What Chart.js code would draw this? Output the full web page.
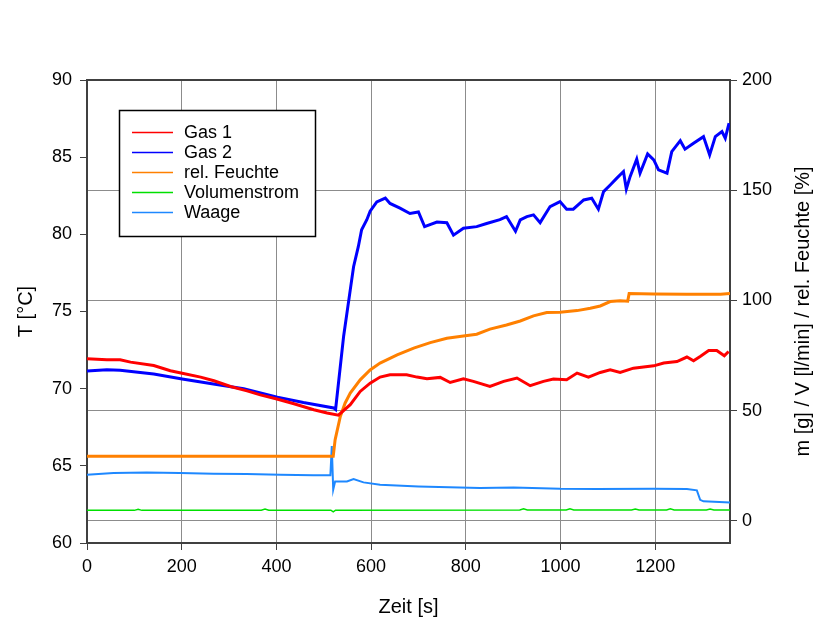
<!DOCTYPE html>
<html>
<head>
<meta charset="utf-8">
<script src="https://cdn.jsdelivr.net/npm/chart.js@4.4.1/dist/chart.umd.min.js"></script>
<style>
  html, body { margin: 0; padding: 0; background: #fff; }
  canvas { display: block; }
</style>
</head>
<body>
<canvas id="chart" width="817" height="623"></canvas>
<script>
const FONT = 'Arial, "Liberation Sans", sans-serif';

// Tick values of the three axes
const timeTicks = [0, 200, 400, 600, 800, 1000, 1200];
const tempTicks = [60, 65, 70, 75, 80, 85, 90];
const rightTicks = [0, 50, 100, 150, 200];

// Gas 1 temperature [°C]
const gas1Time = [0, 42, 70, 92, 141, 176, 201, 240, 268, 303, 338, 366, 401, 437, 479, 507, 531, 556, 577, 598, 619, 640, 675, 697, 718, 746, 767, 795, 816, 851, 880, 908, 936, 964, 985, 1013, 1035, 1059, 1084, 1105, 1126, 1154, 1197, 1218, 1246, 1267, 1281, 1295, 1313, 1330, 1346, 1355];
const gas1Temp = [71.94, 71.88, 71.87, 71.72, 71.5, 71.16, 71.0, 70.75, 70.51, 70.14, 69.86, 69.6, 69.33, 69.02, 68.63, 68.42, 68.28, 68.96, 69.82, 70.36, 70.75, 70.9, 70.9, 70.75, 70.64, 70.73, 70.4, 70.64, 70.47, 70.14, 70.47, 70.69, 70.19, 70.47, 70.62, 70.58, 71.01, 70.75, 71.05, 71.22, 71.05, 71.33, 71.48, 71.66, 71.76, 72.05, 71.81, 72.09, 72.47, 72.47, 72.13, 72.41];

// Gas 2 temperature [°C]
const gas2Time = [0, 42, 70, 141, 201, 267, 331, 402, 457, 521, 525, 542, 556, 563, 573, 580, 591, 598, 612, 630, 640, 661, 682, 700, 713, 739, 760, 774, 795, 823, 844, 872, 886, 905, 915, 929, 943, 957, 978, 999, 1013, 1027, 1049, 1066, 1080, 1091, 1105, 1119, 1133, 1139, 1147, 1161, 1168, 1184, 1197, 1207, 1225, 1235, 1253, 1263, 1281, 1302, 1315, 1327, 1341, 1348, 1356];
const gas2Temp = [71.15, 71.22, 71.2, 70.95, 70.62, 70.3, 70.0, 69.45, 69.1, 68.75, 68.65, 73.4, 76.4, 77.9, 79.2, 80.3, 80.95, 81.5, 82.1, 82.35, 82.0, 81.7, 81.35, 81.45, 80.5, 80.8, 80.75, 79.95, 80.4, 80.5, 80.7, 80.95, 81.15, 80.2, 80.94, 81.15, 81.26, 80.76, 81.8, 82.12, 81.63, 81.63, 82.23, 82.34, 81.63, 82.77, 83.2, 83.64, 84.07, 82.93, 83.74, 84.87, 83.96, 85.21, 84.82, 84.18, 83.96, 85.36, 86.07, 85.52, 85.9, 86.33, 85.15, 86.33, 86.66, 86.23, 87.2];

// Relative humidity [%]
const humTime = [0, 517, 520, 524, 535, 545, 556, 577, 598, 619, 655, 690, 725, 760, 795, 823, 851, 886, 915, 943, 971, 999, 1035, 1063, 1084, 1105, 1126, 1142, 1145, 1197, 1267, 1338, 1358];
const humValue = [29.3, 29.3, 29.3, 36.8, 47.4, 53.4, 58.0, 64.0, 68.5, 71.6, 75.3, 78.4, 80.9, 82.9, 83.9, 84.7, 87.0, 88.9, 90.7, 93.0, 94.5, 94.7, 95.4, 96.5, 97.5, 99.5, 99.9, 99.7, 103.2, 102.9, 102.8, 102.8, 103.2];

// Volume flow [l/min]
const flowTime = [0, 100, 108, 116, 368, 376, 384, 515, 520, 525, 914, 922, 930, 1012, 1020, 1028, 1150, 1158, 1166, 1224, 1232, 1240, 1308, 1316, 1324, 1358];
const flowValue = [4.8, 4.8, 5.3, 4.8, 4.9, 5.4, 4.9, 4.9, 4.1, 4.9, 5.0, 5.5, 5.0, 5.0, 5.5, 5.0, 5.0, 5.4, 5.0, 5.0, 5.5, 5.0, 5.0, 5.4, 5.0, 5.0];

// Balance reading [g]
const massTime = [0, 56, 126, 196, 267, 337, 408, 478, 514, 517, 520, 524, 549, 563, 584, 619, 700, 830, 901, 999, 1077, 1196, 1267, 1288, 1295, 1302, 1358];
const massValue = [21.0, 21.7, 22.0, 21.7, 21.4, 21.3, 21.0, 20.7, 20.7, 34.0, 14.2, 17.9, 17.9, 19.0, 17.5, 16.4, 15.6, 14.9, 15.2, 14.6, 14.5, 14.6, 14.5, 13.9, 9.6, 8.9, 8.4];

const pts = (xs, ys) => xs.map((x, i) => ({ x: x, y: ys[i] }));

function series(label, xs, ys, color, axis, width) {
  return {
    label: label,
    data: pts(xs, ys),
    borderColor: color,
    backgroundColor: color,
    borderWidth: width,
    pointRadius: 0,
    tension: 0,
    fill: false,
    yAxisID: axis
  };
}

// Legend box drawn inside the plot area
const boxLegend = {
  id: 'boxLegend',
  afterDraw(chart) {
    const ctx = chart.ctx;
    const x0 = 119.5, y0 = 110.5, w = 196, h = 126;
    ctx.save();
    ctx.fillStyle = '#fff';
    ctx.fillRect(x0, y0, w, h);
    ctx.strokeStyle = '#000';
    ctx.lineWidth = 1.5;
    ctx.strokeRect(x0, y0, w, h);
    ctx.font = '18px ' + FONT;
    ctx.textBaseline = 'middle';
    ctx.textAlign = 'left';
    chart.data.datasets.forEach((ds, i) => {
      const y = 132.5 + i * 20;
      ctx.strokeStyle = ds.borderColor;
      ctx.lineWidth = 1.5;
      ctx.beginPath();
      ctx.moveTo(132, y);
      ctx.lineTo(173, y);
      ctx.stroke();
      ctx.fillStyle = '#000';
      ctx.fillText(ds.label, 184, y + 1);
    });
    ctx.restore();
  }
};

// Top frame line and the right axis title (reading bottom to top)
const frameAndTitle = {
  id: 'frameAndTitle',
  afterDraw(chart) {
    const ctx = chart.ctx;
    const a = chart.chartArea;
    ctx.save();
    ctx.strokeStyle = '#404040';
    ctx.lineWidth = 2;
    ctx.beginPath();
    ctx.moveTo(a.left, a.top);
    ctx.lineTo(a.right, a.top);
    ctx.stroke();
    ctx.translate(803, (a.top + a.bottom) / 2);
    ctx.rotate(-Math.PI / 2);
    ctx.font = '20px ' + FONT;
    ctx.fillStyle = '#000';
    ctx.textAlign = 'center';
    ctx.textBaseline = 'middle';
    ctx.fillText('m [g] / V [l/min] / rel. Feuchte [%]', 0, 0);
    ctx.restore();
  }
};

const gridColor = '#8c8c8c';
const axisColor = '#404040';
const plainLabel = v => String(v);

new Chart(document.getElementById('chart'), {
  type: 'line',
  data: {
    datasets: [
      series('Gas 1', gas1Time, gas1Temp, '#ff0000', 'yT', 3),
      series('Gas 2', gas2Time, gas2Temp, '#0000ff', 'yT', 3),
      series('rel. Feuchte', humTime, humValue, '#ff8000', 'yR', 3),
      series('Volumenstrom', flowTime, flowValue, '#00e000', 'yR', 1.5),
      series('Waage', massTime, massValue, '#1e88ff', 'yR', 2)
    ]
  },
  options: {
    responsive: false,
    animation: false,
    devicePixelRatio: 1,
    layout: { padding: { top: 80, left: 0, right: 0, bottom: 0 } },
    plugins: {
      legend: { display: false },
      tooltip: { enabled: false }
    },
    scales: {
      x: {
        type: 'linear',
        min: 0,
        max: 1358,
        afterBuildTicks: s => { s.ticks = timeTicks.map(v => ({ value: v })); },
        afterFit: s => { s.height = 80; },
        grid: { color: gridColor, lineWidth: 1, tickLength: 7, tickColor: axisColor },
        border: { color: axisColor, width: 2 },
        ticks: { font: { size: 18, family: FONT }, color: '#000', padding: 6, maxRotation: 0, callback: plainLabel },
        title: { display: true, text: 'Zeit [s]', color: '#000', font: { size: 20, family: FONT }, padding: { top: 0, bottom: 4 } }
      },
      yT: {
        type: 'linear',
        position: 'left',
        min: 60,
        max: 90,
        afterBuildTicks: s => { s.ticks = tempTicks.map(v => ({ value: v })); },
        afterFit: s => { s.width = 87; },
        grid: { drawOnChartArea: false, tickLength: 7, tickColor: axisColor },
        border: { color: axisColor, width: 2 },
        ticks: { font: { size: 18, family: FONT }, color: '#000', padding: 8, callback: plainLabel },
        title: { display: true, text: 'T [°C]', color: '#000', font: { size: 20, family: FONT }, padding: { top: 14, bottom: 0 } }
      },
      yR: {
        type: 'linear',
        position: 'right',
        min: -10,
        max: 200,
        afterBuildTicks: s => { s.ticks = rightTicks.map(v => ({ value: v })); },
        afterFit: s => { s.width = 87; },
        grid: { color: gridColor, lineWidth: 1, tickLength: 7, tickColor: axisColor },
        border: { color: axisColor, width: 2 },
        ticks: { font: { size: 18, family: FONT }, color: '#000', padding: 5, callback: plainLabel },
        title: { display: false }
      }
    }
  },
  plugins: [boxLegend, frameAndTitle]
});
</script>
</body>
</html>
